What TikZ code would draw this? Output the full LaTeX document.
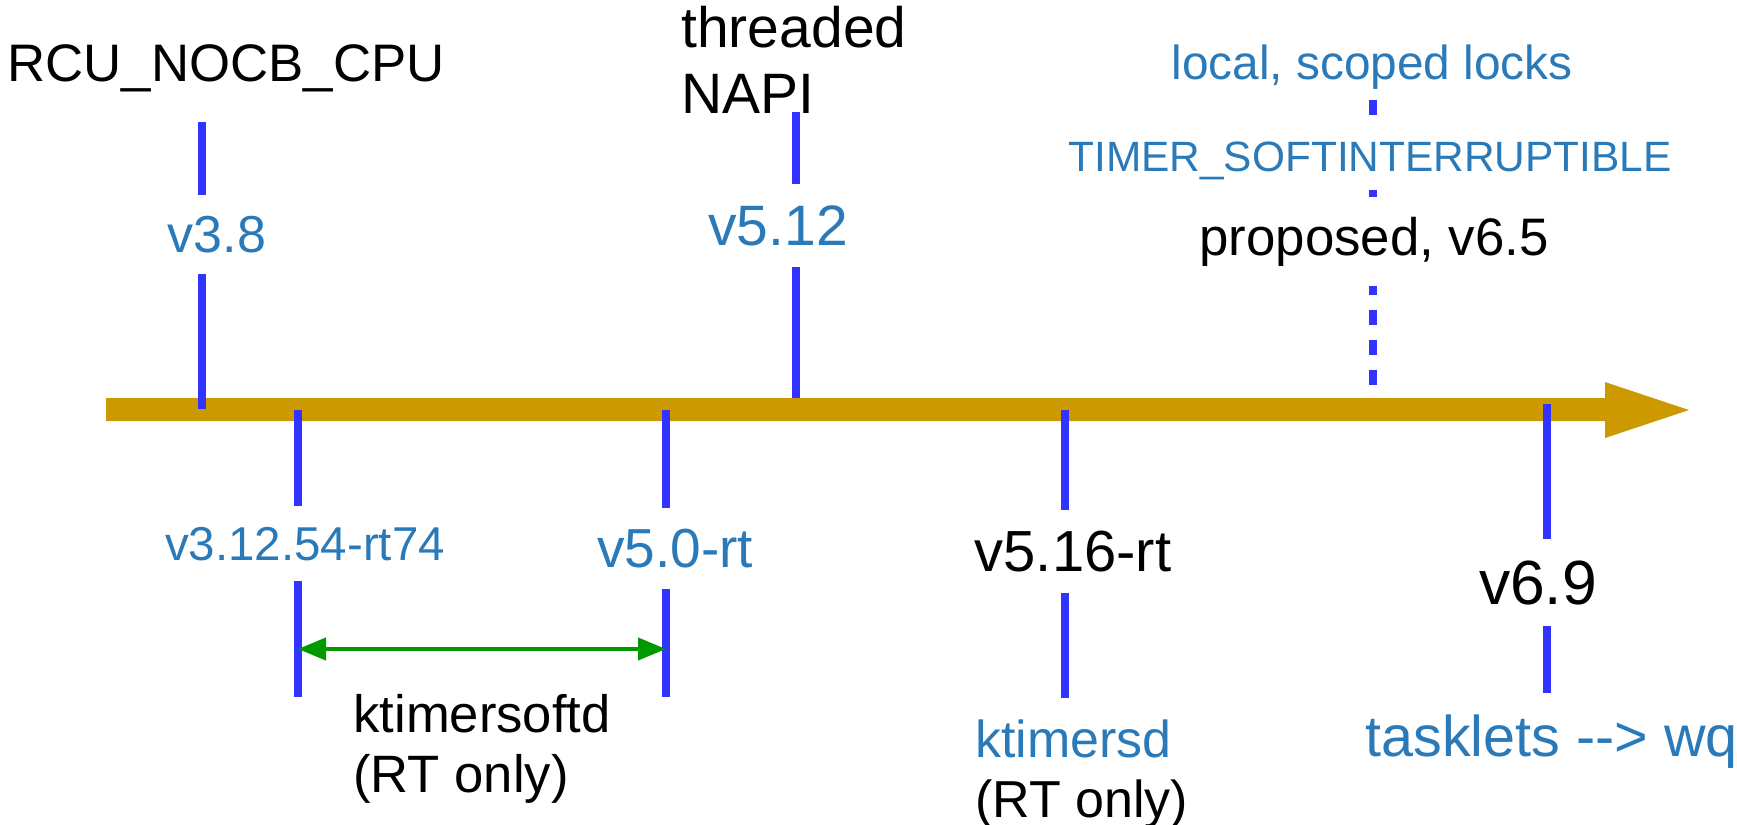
\documentclass[tikz,border=0pt]{standalone}
\usepackage{fontspec}
\setmainfont{Liberation Sans}
\usetikzlibrary{arrows.meta}

\definecolor{axisgold}{RGB}{204,153,0}
\definecolor{tickblue}{RGB}{51,51,255}
\definecolor{relblue}{RGB}{42,122,185}
\definecolor{spangreen}{RGB}{0,153,0}

\newcommand\fsz[2]{\fontsize{#1}{#2}\selectfont}

\tikzset{
  tickline/.style={tickblue, line width=4pt},
  verlabel/.style={fill=white, inner xsep=2pt, inner ysep=10.5pt, anchor=base},
  title/.style={inner sep=0pt, anchor=base west, align=left},
  spanarrow/.style={spangreen, line width=2pt, {Triangle[length=14pt,width=11pt]}-{Triangle[length=14pt,width=11pt]}}
}

\begin{document}
\begin{tikzpicture}[x=0.5pt,y=-0.5pt]
\useasboundingbox (0,0) rectangle (1737,825);

% time axis
\fill[axisgold] (106,398) -- (1605,398) -- (1605,382) -- (1689,410)
  -- (1605,438) -- (1605,421) -- (106,421) -- cycle;

% tick end points
\coordinate (t38a) at (202,122);   \coordinate (t38b) at (202,409);
\coordinate (t512a) at (796,112);  \coordinate (t512b) at (796,398);
\coordinate (t65a) at (1373,100);  \coordinate (t65b) at (1373,388);
\coordinate (t312a) at (298,410);  \coordinate (t312b) at (298,697);
\coordinate (t50a) at (666,410);   \coordinate (t50b) at (666,697);
\coordinate (t516a) at (1065,410); \coordinate (t516b) at (1065,698);
\coordinate (t69a) at (1547,404);  \coordinate (t69b) at (1547,693);

\foreach \a/\b in {t38a/t38b, t512a/t512b, t312a/t312b, t50a/t50b, t516a/t516b, t69a/t69b}
  \draw[tickline] (\a) -- (\b);
\draw[tickline, dash pattern=on 7.5pt off 7.5pt] (t65a) -- (t65b);

% releases above the axis
\node[title, font=\fsz{26.4}{30}] (rcu) at (7,81) {RCU\_NOCB\_CPU};
\node[verlabel, text=relblue, font=\fsz{26}{30}] (v38) at (217,252) {v3.8};

\node[title, font=\fsz{28.5}{33}] (napi) at (681,113) {threaded\\NAPI};
\node[verlabel, text=relblue, font=\fsz{28.5}{33}] (v512) at (778,245) {v5.12};

\node[anchor=base, text=relblue, font=\fsz{23.9}{28}] (locks) at (1372,79) {local, scoped locks};
\node[verlabel, inner ysep=5.5pt, text=relblue, font=\fsz{21.2}{25}] (softint) at (1370,171) {TIMER\_SOFTINTERRUPTIBLE};
\node[verlabel, inner ysep=10pt, font=\fsz{26.4}{30}] (v65) at (1374,255) {proposed, v6.5};

% releases below the axis
\node[verlabel, text=relblue, font=\fsz{23.75}{28}] (v312) at (305,560) {v3.12.54-rt74};
\node[verlabel, text=relblue, font=\fsz{27.5}{32}] (v50) at (675,567) {v5.0-rt};
\node[verlabel, font=\fsz{29}{34}] (v516) at (1073,571) {v5.16-rt};
\node[verlabel, font=\fsz{31.2}{36}] (v69) at (1538,604) {v6.9};

% ktimersoftd lifetime
\coordinate (ktl) at (298,649);
\coordinate (ktr) at (666,649);
\draw[spanarrow] (ktl) -- (ktr);

\node[title, font=\fsz{26.3}{30}] (ktsoft) at (353,792) {ktimersoftd\\(RT only)};
\node[title, font=\fsz{26}{30}] (kts) at (975,817) {\textcolor{relblue}{ktimersd}\\(RT only)};
\node[title, text=relblue, font=\fsz{28.75}{33}] (tasklets) at (1365,756) {tasklets {-}{-}> wq};
\end{tikzpicture}
\end{document}
